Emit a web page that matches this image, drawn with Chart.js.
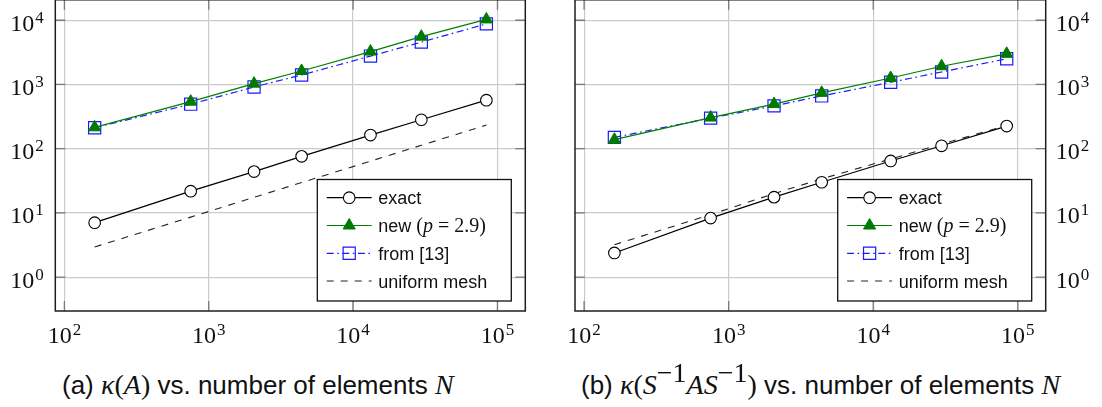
<!DOCTYPE html>
<html>
<head>
<meta charset="utf-8">
<script src="https://cdn.jsdelivr.net/npm/chart.js@4/dist/chart.umd.min.js"></script>
<style>
  html, body { margin: 0; padding: 0; background: #fff; overflow: hidden; width: 1102px; height: 407px; }
  .wrap { position: absolute; }
  .cap { position: absolute; font-family: "Liberation Sans", Arial, sans-serif; font-size: 26px; color: #111; white-space: nowrap; line-height: 24px; }
  .m { font-family: "Liberation Serif", "DejaVu Serif", serif; font-size: 28px; }
  .mi { font-family: "Liberation Serif", "DejaVu Serif", serif; font-style: italic; font-size: 28px; }
  sup { font-size: 18px; position: relative; top: -2px; vertical-align: super; line-height: 0; }
</style>
</head>
<body>
<div class="wrap" style="left:0px; top:-10px; width:550px; height:370px;"><canvas id="ca" width="550" height="370"></canvas></div>
<div class="wrap" style="left:550px; top:-10px; width:552px; height:370px;"><canvas id="cb" width="552" height="370"></canvas></div>
<div class="cap" style="left:62px; top:373px;">(a) <span class="mi">κ</span><span class="m">(</span><span class="mi">A</span><span class="m">)</span> vs. number of elements <span class="mi">N</span></div>
<div class="cap" style="left:581px; top:373px;">(b) <span class="mi">κ</span><span class="m">(</span><span class="mi">S</span><sup class="m">−1</sup><span class="mi">AS</span><sup class="m">−1</sup><span class="m">)</span> vs. number of elements <span class="mi">N</span></div>
<script>
// ---- data ----
const N = [162, 750, 2060, 4400, 13200, 29700, 83800];

const exactA   = [7.05, 21.8, 44, 76, 163, 282, 569];
const newA     = [215, 540, 1030, 1620, 3250, 5550, 10300];
const fromA    = [212, 493, 914, 1403, 2767, 4560, 8770];
const uniformA = [2.95, 8.6, 17.5, 29.7, 64, 113, 233];

const exactB   = [2.38, 8.3, 17.6, 30, 64.4, 111, 225];
const newB     = [138, 305, 495, 740, 1260, 1920, 3000];
const fromB    = [150, 299, 464, 663, 1081, 1563, 2512];
const uniformB = [3.2, 9.4, 20, 33.9, 69, 118, 230];

const xTickExps = [2, 3, 4, 5];
const yTickExps = [0, 1, 2, 3, 4];
const seriesLabels = ['exact', 'new', 'from [13]', 'uniform mesh'];

const SANS = '"Liberation Sans", Arial, sans-serif';
const SERIF = '"Liberation Serif", "DejaVu Serif", serif';

function pts(ys) { return N.map((n, i) => ({ x: n, y: ys[i] })); }

function makeDatasets(ex, nw, fr, un) {
  return [
    { label: seriesLabels[0], data: pts(ex), borderColor: '#000', borderWidth: 1.2, pointStyle: 'circle',
      pointRadius: 5.8, pointBorderWidth: 1.1, pointBackgroundColor: '#fff', pointBorderColor: '#000', borderDash: [] , order: 1},
    { label: seriesLabels[1], data: pts(nw), borderColor: '#008000', borderWidth: 1.2, pointStyle: 'triangle',
      pointRadius: 7, pointBorderWidth: 1, pointBackgroundColor: '#007a00', pointBorderColor: '#007a00', borderDash: [], order: 2 },
    { label: seriesLabels[2], data: pts(fr), borderColor: '#1a1aff', borderWidth: 1.2, pointStyle: 'rect',
      pointRadius: 8.6, pointBorderWidth: 1.2, pointBackgroundColor: 'rgba(255,255,255,0)', pointBorderColor: '#1a1aff',
      borderDash: [7, 3.5, 1.6, 3.5], order: 3 },
    { label: seriesLabels[3], data: pts(un), borderColor: '#222', borderWidth: 1.1, pointRadius: 0,
      borderDash: [7, 7], order: 4 }
  ];
}

function drawLabel(ctx, x, y, exp, align) {
  ctx.font = '24px ' + SERIF;
  const w1 = ctx.measureText('10').width;
  ctx.font = '17px ' + SERIF;
  const w2 = ctx.measureText(String(exp)).width;
  const tot = w1 + 1 + w2;
  let x0 = x;
  if (align === 'right') x0 = x - tot;
  else if (align === 'center') x0 = x - tot / 2;
  ctx.fillStyle = '#111';
  ctx.textAlign = 'left';
  ctx.textBaseline = 'alphabetic';
  ctx.font = '24px ' + SERIF;
  ctx.fillText('10', x0, y);
  ctx.font = '17px ' + SERIF;
  ctx.fillText(String(exp), x0 + w1 + 1, y - 8);
}

function drawMarker(ctx, ds, x, y) {
  ctx.save();
  ctx.setLineDash([]);
  ctx.lineWidth = ds.pointBorderWidth || 1;
  ctx.strokeStyle = ds.pointBorderColor;
  ctx.fillStyle = ds.pointBackgroundColor;
  const r = ds.pointRadius;
  ctx.beginPath();
  if (ds.pointStyle === 'circle') {
    ctx.arc(x, y, r, 0, Math.PI * 2);
  } else if (ds.pointStyle === 'triangle') {
    for (let k = 0; k < 3; k++) {
      const a = k * 2 * Math.PI / 3;
      const px = x + Math.sin(a) * r, py = y - Math.cos(a) * r;
      if (k === 0) ctx.moveTo(px, py); else ctx.lineTo(px, py);
    }
    ctx.closePath();
  } else if (ds.pointStyle === 'rect') {
    const s = Math.SQRT1_2 * r;
    ctx.rect(x - s, y - s, 2 * s, 2 * s);
  }
  ctx.fill();
  ctx.stroke();
  ctx.restore();
}

const framePlugin = {
  id: 'frame',
  afterDatasetsDraw(chart, args, opts) {
    const ctx = chart.ctx;
    const a = chart.chartArea;
    const xs = chart.scales.x, ys = chart.scales.y;
    ctx.save();
    ctx.strokeStyle = '#7a7a7a';
    ctx.lineWidth = 1.3;
    const TL = 10;
    xTickExps.forEach(e => {
      const px = xs.getPixelForValue(Math.pow(10, e));
      ctx.beginPath();
      ctx.moveTo(px, a.bottom); ctx.lineTo(px, a.bottom - TL);
      ctx.moveTo(px, a.top); ctx.lineTo(px, a.top + TL);
      ctx.stroke();
    });
    yTickExps.forEach(e => {
      const py = ys.getPixelForValue(Math.pow(10, e));
      ctx.beginPath();
      ctx.moveTo(a.left, py); ctx.lineTo(a.left + TL, py);
      ctx.moveTo(a.right, py); ctx.lineTo(a.right - TL, py);
      ctx.stroke();
    });
    ctx.strokeStyle = '#1e1e1e';
    ctx.lineWidth = 1.5;
    ctx.strokeRect(a.left, a.top, a.right - a.left, a.bottom - a.top);
    xTickExps.forEach(e => {
      const px = xs.getPixelForValue(Math.pow(10, e));
      drawLabel(ctx, px, a.bottom + 32.3, e, 'center');
    });
    yTickExps.forEach(e => {
      const py = ys.getPixelForValue(Math.pow(10, e));
      if (opts.side === 'left') drawLabel(ctx, a.left - 11.5, py + 10.5, e, 'right');
      else drawLabel(ctx, a.right + 10, py + 10.5, e, 'left');
    });
    const W = 194, H = 121.5;
    const L = a.right - 14 - W, T = a.bottom - 10 - H;
    ctx.fillStyle = '#fff';
    ctx.fillRect(L, T, W, H);
    ctx.strokeStyle = '#111';
    ctx.lineWidth = 1.3;
    ctx.strokeRect(L, T, W, H);
    const rowY = [18.2, 46, 73.8, 101.5];
    chart.data.datasets.forEach((ds, i) => {
      const y = T + rowY[i];
      ctx.save();
      ctx.strokeStyle = ds.borderColor;
      ctx.lineWidth = ds.borderWidth;
      ctx.setLineDash(ds.borderDash || []);
      ctx.beginPath();
      ctx.moveTo(L + 9.4, y); ctx.lineTo(L + 54.4, y);
      ctx.stroke();
      ctx.restore();
      if (ds.pointRadius > 0) drawMarker(ctx, ds, L + 31.9, y);
      ctx.fillStyle = '#111';
      ctx.textAlign = 'left';
      ctx.textBaseline = 'alphabetic';
      let tx = L + 61;
      const by = y + 6.5;
      if (i === 1) {
        const parts = [
          { t: 'new ', f: '18px ' + SANS },
          { t: '(', f: '20px ' + SERIF },
          { t: 'p', f: 'italic 20px ' + SERIF },
          { t: ' = 2.9)', f: '20px ' + SERIF }
        ];
        parts.forEach(p => { ctx.font = p.f; ctx.fillText(p.t, tx, by); tx += ctx.measureText(p.t).width; });
      } else {
        ctx.font = '18px ' + SANS;
        ctx.fillText(ds.label, tx, by);
      }
    });
    ctx.restore();
  }
};

function makeChart(id, datasets, side) {
  const yW = side === 'left' ? 55.3 : 56.3;
  const padding = side === 'left' ? { left: 0, right: 24.7, top: 8.5, bottom: 0 } : { left: 25, right: 0, top: 8.5, bottom: 0 };
  return new Chart(document.getElementById(id), {
    type: 'line',
    data: { datasets },
    options: {
      responsive: false,
      animation: false,
      events: [],
      layout: { padding },
      plugins: { legend: { display: false }, tooltip: { enabled: false }, frame: { side } },
      elements: { line: { tension: 0 } },
      scales: {
        x: {
          type: 'logarithmic', position: 'bottom',
          min: Math.pow(10, 1.937), max: Math.pow(10, 5.193),
          afterBuildTicks: s => { s.ticks = xTickExps.map(e => ({ value: Math.pow(10, e) })); },
          afterFit: s => { s.height = 49; },
          ticks: { display: false },
          grid: { color: '#cbcbcb', lineWidth: 1.2, drawTicks: false },
          border: { display: false }
        },
        y: {
          type: 'logarithmic', position: side,
          min: Math.pow(10, -0.527), max: Math.pow(10, 4.318),
          afterBuildTicks: s => { s.ticks = yTickExps.map(e => ({ value: Math.pow(10, e) })); },
          afterFit: s => { s.width = yW; },
          ticks: { display: false },
          grid: { color: '#cbcbcb', lineWidth: 1.2, drawTicks: false },
          border: { display: false }
        }
      }
    },
    plugins: [framePlugin]
  });
}

makeChart('ca', makeDatasets(exactA, newA, fromA, uniformA), 'left');
makeChart('cb', makeDatasets(exactB, newB, fromB, uniformB), 'right');
</script>
</body>
</html>
